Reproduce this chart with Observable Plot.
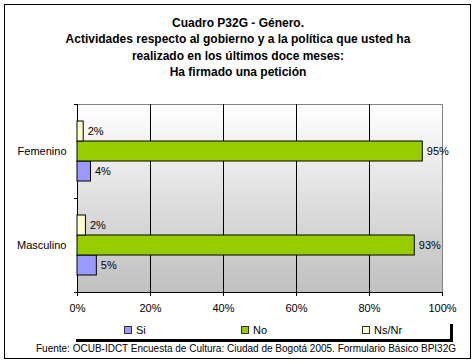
<!DOCTYPE html>
<html>
<head>
<meta charset="utf-8">
<script src="https://cdn.jsdelivr.net/npm/d3@7"></script>
<script src="https://cdn.jsdelivr.net/npm/@observablehq/plot@0.6"></script>
<style>
  body { margin: 0; background: #fff; }
  #wrap { position: relative; width: 476px; height: 364px; background: #fff; font-family: "Liberation Sans", Arial, sans-serif; color: #000; overflow: hidden; }
  #frame { position: absolute; left: 4px; top: 4px; width: 467px; height: 355px; border: 1px solid #000; box-sizing: border-box; }
  #title { position: absolute; left: 0; width: 476px; top: 15px; text-align: center; font-weight: bold; font-size: 12px; line-height: 16.4px; }
  #chart { position: absolute; left: 0; top: 0; }
  #legendbox { position: absolute; left: 73px; top: 321px; width: 377px; height: 18px; background: #fff; box-shadow: 3px 3px 0 #000; }
  .litem { position: absolute; top: 0; height: 18px; display: flex; align-items: center; font-size: 11px; }
  .lsw { width: 6px; height: 6px; border: 1px solid #333; margin-right: 4px; }
  #footer { position: absolute; left: 0; width: 492px; top: 342px; text-align: center; font-size: 10px; line-height: 14px; }
</style>
</head>
<body>
<div id="wrap">
  <div id="frame"></div>
  <div id="title"></div>
  <div id="chart"></div>
  <div id="legendbox"></div>
  <div id="footer"></div>
</div>
<script>
// ---- Data ----
const titleLines = [
  "Cuadro P32G - Género.",
  "Actividades respecto al gobierno y a la política que usted ha",
  "realizado en los últimos doce meses:",
  "Ha firmado una petición"
];
const genders = ["Femenino", "Masculino"];
const series = ["Si", "No", "Ns/Nr"];
const femenino = [3.7, 94.6, 1.7];
const masculino = [5.3, 92.4, 2.3];
const femeninoLabels = ["4%", "95%", "2%"];
const masculinoLabels = ["5%", "93%", "2%"];
const colors = ["#9999ff", "#99cc00", "#ffffcc"];
const xTicks = [0, 20, 40, 60, 80, 100];
const gridTicks = [0, 20, 40, 60, 80];
const footerText = "Fuente: OCUB-IDCT Encuesta de Cultura: Ciudad de Bogotá 2005. Formulario Básico BPI32G";

// ---- Build tables ----
const rows = [];
series.forEach((s, i) => {
  rows.push({genero: "Femenino", serie: s, valor: femenino[i], label: femeninoLabels[i]});
  rows.push({genero: "Masculino", serie: s, valor: masculino[i], label: masculinoLabels[i]});
});
const gridRows = genders.flatMap(gn => gridTicks.map(t => ({genero: gn, t})));

// ---- Layout ----
const W = 476, H = 364;
const mL = 77, mR = 34, mT = 104, mB = 72;

const chart = Plot.plot({
  width: W,
  height: H,
  marginLeft: mL,
  marginRight: mR,
  marginTop: mT,
  marginBottom: mB,
  style: {fontFamily: "'Liberation Sans', Arial, sans-serif", fontSize: "11px", background: "transparent", color: "#000"},
  x: {domain: [0, 100]},
  y: {domain: ["Ns/Nr", "No", "Si"], paddingInner: 0, paddingOuter: 0.77, axis: null},
  fy: {domain: genders, padding: 0},
  color: {domain: series, range: colors},
  marks: [
    Plot.ruleX(gridRows, {fy: "genero", x: "t", stroke: "#000", strokeWidth: 1, strokeOpacity: 1}),
    Plot.barX(rows, {fy: "genero", y: "serie", x: "valor", fill: "serie", stroke: "#000", strokeWidth: 1}),
    Plot.text(rows, {fy: "genero", y: "serie", x: "valor", text: "label", dx: 4, textAnchor: "start", fill: "#000", fontSize: 11}),
    Plot.axisX({ticks: xTicks, tickFormat: d => d + "%", tickSize: 4, tickPadding: 8, label: null, stroke: "#000", fontSize: 11}),
    Plot.axisFy({anchor: "left", tickSize: 0, tickPadding: 11, label: null, fontSize: 11})
  ]
});
document.getElementById("chart").appendChild(chart);

// ---- Plot-area decorations (background, border, axis lines) ----
const svgNode = chart;
const xs = chart.scale("x");
const L = xs.apply(0), R = xs.apply(100);
const T = mT, B = H - mB, M = (T + B) / 2;
const NS = "http://www.w3.org/2000/svg";
const bgNode = document.createElementNS(NS, "g");
svgNode.insertBefore(bgNode, svgNode.firstChild);
const bg = d3.select(bgNode);
const g = bg.append("defs").append("linearGradient").attr("id", "bggrad").attr("x1", 0).attr("y1", 0).attr("x2", 0).attr("y2", 1);
g.append("stop").attr("offset", "0%").attr("stop-color", "#ffffff");
g.append("stop").attr("offset", "100%").attr("stop-color", "#c0c0c0");
bg.append("rect").attr("x", L).attr("y", T).attr("width", R - L).attr("height", B - T).attr("fill", "url(#bggrad)");
bg.append("path").attr("d", `M${L},${T + 0.5}H${R + 0.5}V${B}`).attr("fill", "none").attr("stroke", "#808080");
const fg = d3.select(svgNode).append("g").attr("stroke", "#000").attr("fill", "none");
fg.append("path").attr("d", `M${L},${B + 0.5}H${R}`);
fg.append("path").attr("d", [T, M, B].map(y => `M${L - 3},${Math.round(y) + 0.5}H${L}`).join(""));

// ---- HTML text ----
document.getElementById("title").innerHTML = titleLines.map(t => `<div>${t}</div>`).join("");
document.getElementById("footer").textContent = footerText;
const legendX = [51, 168, 289];
const lb = document.getElementById("legendbox");
series.forEach((s, i) => {
  const it = document.createElement("div");
  it.className = "litem";
  it.style.left = legendX[i] + "px";
  it.innerHTML = `<span class="lsw" style="background:${colors[i]}"></span><span>${s}</span>`;
  lb.appendChild(it);
});
</script>
</body>
</html>
